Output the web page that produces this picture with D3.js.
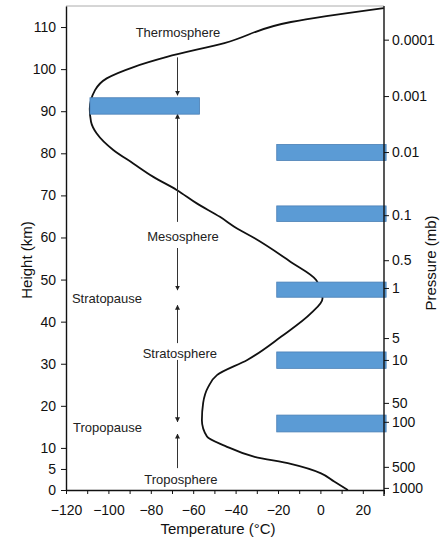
<!DOCTYPE html>
<html><head><meta charset="utf-8">
<script src="https://cdn.jsdelivr.net/npm/d3@7/dist/d3.min.js"></script>
<style>body{margin:0;background:#fff}svg{display:block;font-family:"Liberation Sans",Arial,sans-serif}</style>
</head><body><svg id="c" width="448" height="542"></svg>
<script>
// Temperature profile: height (km) and temperature (°C)
const profileHeights = [0, 2, 3.96, 6.2, 7.9, 10.5, 12.7, 16.6, 20.7, 24.5, 27.3, 30.9, 36.4, 42, 45.5, 49.9, 54.2, 59.8, 62.2, 64.9, 68.1, 71.3, 74.4, 77.6, 80.8, 84.7, 87.5, 90.5, 95, 97.8, 100.5, 102.9, 106.2, 111.2, 114.5];
const profileTemps   = [13, 6.5, 0.3, -14, -31, -45, -53.5, -55.9, -55.3, -52.9, -48.8, -34.5, -18.6, -4.4, 1, -2, -14, -31, -39.5, -47.4, -58.3, -67.8, -78.8, -88.3, -97.7, -105.5, -108.2, -108.8, -106.3, -100.8, -88.1, -72.4, -45.3, -13.9, 29.9];

// Blue bars: temp start/end, height bottom/top
const barTempStart = [-108.7, -20.6, -20.6, -20.6, -20.6, -20.6];
const barTempEnd   = [-57, 31, 31, 31, 31, 31];
const barHeightLow = [89.3, 78.3, 63.8, 45.8, 28.9, 13.8];
const barHeightHigh= [93.2, 82.1, 67.5, 49.4, 32.8, 17.8];

// Axes
const heightTicks = [0, 5, 10, 20, 30, 40, 50, 60, 70, 80, 90, 100, 110];
const tempTicks = [-120, -110, -100, -90, -80, -70, -60, -50, -40, -30, -20, -10, 0, 10, 20, 30];
const tempLabels = [-120, -100, -80, -60, -40, -20, 0, 20];
const pressureLabels = ["0.0001", "0.001", "0.01", "0.1", "0.5", "1", "5", "10", "50", "100", "500", "1000"];
const pressureHeights = [107, 93.6, 80.3, 65.3, 54.6, 48, 36.1, 30.9, 20.7, 16.2, 5.5, 0.5];

// Layer names
const layerNames = ["Thermosphere", "Mesosphere", "Stratopause", "Stratosphere", "Tropopause", "Troposphere"];
const layerTemps = [-67.2, -64.8, -117.2, -66.3, -116.7, -65.8];
const layerHeights = [108.8, 60.3, 45.6, 32.5, 14.8, 2.5];
const layerAnchors = ["middle", "middle", "start", "middle", "start", "middle"];

// Arrows: from height -> to height (head at "to")
const arrowTemp = -67.4;
const arrowFrom = [102.8, 63.7, 57.5, 34.9, 30.9, 5.2];
const arrowTo   = [93.8, 89.3, 47.5, 43.9, 16.2, 13.3];

const svg = d3.select("#c");
const x = d3.scaleLinear().domain([-120, 30]).range([66, 384]);
const y = d3.scaleLinear().domain([0, 115]).range([490, 6]);

// frame top (faint)
svg.append("line").attr("x1", x(-120)).attr("x2", x(30)).attr("y1", y(115)).attr("y2", y(115))
  .attr("stroke", "#777").attr("stroke-width", 1).attr("opacity", 0.6);

// curve
const pts = profileHeights.map((h, i) => [profileTemps[i], h]);
svg.append("path").datum(pts)
  .attr("d", d3.line().x(d => x(d[0])).y(d => y(d[1])).curve(d3.curveMonotoneY))
  .attr("fill", "none").attr("stroke", "#111").attr("stroke-width", 1.8);

// arrows
const defs = svg.append("defs");
defs.append("marker").attr("id", "ah").attr("viewBox", "0 0 10 10").attr("refX", 9).attr("refY", 5)
  .attr("markerWidth", 5).attr("markerHeight", 7).attr("markerUnits", "userSpaceOnUse").attr("orient", "auto")
  .append("path").attr("d", "M0,0L10,5L0,10Z").attr("fill", "#222");
arrowFrom.forEach((f, i) => {
  svg.append("line").attr("x1", x(arrowTemp)).attr("x2", x(arrowTemp))
    .attr("y1", y(f)).attr("y2", y(arrowTo[i]))
    .attr("stroke", "#333").attr("stroke-width", 1).attr("marker-end", "url(#ah)");
});

// bars
barTempStart.forEach((t, i) => {
  svg.append("rect")
    .attr("x", x(t)).attr("width", x(barTempEnd[i]) - x(t))
    .attr("y", y(barHeightHigh[i])).attr("height", y(barHeightLow[i]) - y(barHeightHigh[i]))
    .attr("fill", "#5b9bd5").attr("stroke", "#4a7fb5").attr("stroke-width", 0.8);
});

// layer labels
layerNames.forEach((n, i) => {
  svg.append("text").attr("x", x(layerTemps[i])).attr("y", y(layerHeights[i])).attr("dy", "0.36em")
    .attr("text-anchor", layerAnchors[i]).attr("font-size", 13).attr("fill", "#222").text(n);
});

// left axis
const gl = svg.append("g").attr("transform", `translate(${x(-120)},0)`)
  .call(d3.axisLeft(y).tickValues(heightTicks).tickSize(5).tickPadding(5).tickSizeOuter(0));
// bottom axis
const gb = svg.append("g").attr("transform", `translate(0,${y(0)})`)
  .call(d3.axisBottom(x).tickValues(tempTicks).tickSize(4).tickPadding(11).tickSizeOuter(0)
    .tickFormat(d => tempLabels.includes(d) ? d3.format("d")(d).replace("-", "\u2212") : ""));
// right axis
const py = d3.scaleOrdinal().domain(pressureLabels).range(pressureHeights.map(h => y(h)));
const gr = svg.append("g").attr("transform", `translate(${x(30)},0)`)
  .call(d3.axisRight(py).tickSize(5).tickPadding(3).tickSizeOuter(0));
gr.select(".domain").remove();
gr.append("line").attr("x1", 0).attr("x2", 0).attr("y1", y(115)).attr("y2", y(0) + 6).attr("stroke", "#111").attr("stroke-width", 1.4);

[gl, gb, gr].forEach(g => {
  g.selectAll("text").attr("font-size", 14).attr("fill", "#111").attr("font-family", "Liberation Sans, Arial, sans-serif");
  g.selectAll("line").attr("stroke", "#111");
  g.selectAll(".domain").attr("stroke", "#111").attr("stroke-width", 1.4);
});

// titles
svg.append("text").attr("transform", "translate(27,260) rotate(-90)").attr("text-anchor", "middle")
  .attr("dy", "0.36em").attr("font-size", 15).attr("fill", "#111").text("Height (km)");
svg.append("text").attr("transform", "translate(431,263) rotate(-90)").attr("text-anchor", "middle")
  .attr("dy", "0.36em").attr("font-size", 15).attr("fill", "#111").text("Pressure (mb)");
svg.append("text").attr("x", 218).attr("y", 534).attr("text-anchor", "middle")
  .attr("font-size", 15).attr("fill", "#111").text("Temperature (°C)");
</script></body></html>
